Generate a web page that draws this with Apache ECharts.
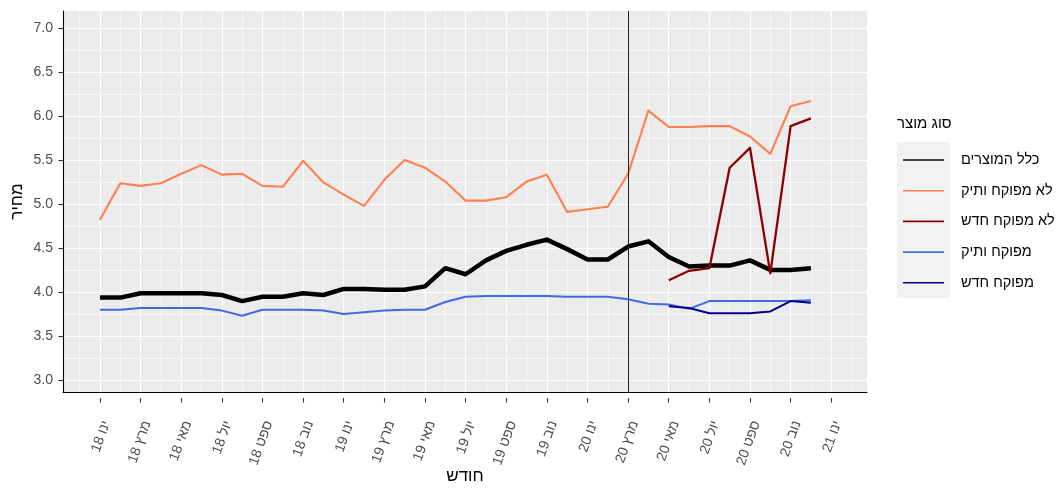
<!DOCTYPE html>
<html><head><meta charset="utf-8">
<script src="https://cdn.jsdelivr.net/npm/echarts@6/dist/echarts.min.js"></script>
<style>html,body{margin:0;padding:0;background:#fff}#c{width:1059px;height:490px}</style>
</head><body><div id="c"></div>
<script>
// ---------- DATA ----------
const months = ['2018-01','2018-02','2018-03','2018-04','2018-05','2018-06','2018-07','2018-08','2018-09','2018-10','2018-11','2018-12',
                '2019-01','2019-02','2019-03','2019-04','2019-05','2019-06','2019-07','2019-08','2019-09','2019-10','2019-11','2019-12',
                '2020-01','2020-02','2020-03','2020-04','2020-05','2020-06','2020-07','2020-08','2020-09','2020-10','2020-11','2020-12'];
const tickLabels = ['ינו 18','מרץ 18','מאי 18','יול 18','ספט 18','נוב 18','ינו 19','מרץ 19','מאי 19','יול 19','ספט 19','נוב 19',
                    'ינו 20','מרץ 20','מאי 20','יול 20','ספט 20','נוב 20','ינו 21'];
const seriesNames = ['כלל המוצרים','לא מפוקח ותיק','לא מפוקח חדש','מפוקח ותיק','מפוקח חדש'];
const allProducts = [3.89,3.89,3.94,3.94,3.94,3.94,3.92,3.85,3.90,3.90,3.94,3.92,
                     3.99,3.99,3.98,3.98,4.02,4.23,4.16,4.32,4.43,4.50,4.56,4.45,
                     4.33,4.33,4.48,4.54,4.36,4.25,4.26,4.26,4.32,4.21,4.21,4.23];
const unregulatedOld = [4.79,5.21,5.18,5.21,5.32,5.42,5.31,5.32,5.18,5.17,5.47,5.22,
                        5.08,4.95,5.25,5.48,5.39,5.23,5.01,5.01,5.05,5.23,5.31,4.88,
                        4.91,4.94,5.32,6.05,5.86,5.86,5.87,5.87,5.75,5.55,6.10,6.16];
const unregulatedNew = [null,null,null,null,null,null,null,null,null,null,null,null,
                        null,null,null,null,null,null,null,null,null,null,null,null,
                        null,null,null,null,4.09,4.20,4.23,5.39,5.62,4.17,5.87,5.96];
const regulatedOld = [3.75,3.75,3.77,3.77,3.77,3.77,3.74,3.68,3.75,3.75,3.75,3.74,
                      3.70,3.72,3.74,3.75,3.75,3.84,3.90,3.91,3.91,3.91,3.91,3.90,
                      3.90,3.90,3.87,3.82,3.81,3.76,3.85,3.85,3.85,3.85,3.85,3.86];
const regulatedNew = [null,null,null,null,null,null,null,null,null,null,null,null,
                      null,null,null,null,null,null,null,null,null,null,null,null,
                      null,null,null,null,3.79,3.77,3.71,3.71,3.71,3.73,3.85,3.83];
const markerMonth = '2020-03';

// ---------- LAYOUT ----------
const FONT = 'Liberation Sans, Arial, sans-serif';
const P = {left: 63, top: 11, width: 804, height: 387};
const X0 = -1.82, X1 = 37.76, Y0 = 2.8, Y1 = 7.2;
const YT0 = 3, YT1 = 7;
const pxX = P.width / (X1 - X0);
const gridB = {left: P.left, width: P.width,
  top: P.top + (Y1 - YT1) / (Y1 - Y0) * P.height,
  height: (YT1 - YT0) / (Y1 - Y0) * P.height};
const K0 = -2, K1 = 38;
const gridC = {left: P.left + (K0 - X0) * pxX, width: (K1 - K0) * pxX, top: P.top, height: P.height};
const ks = [];
for (let k = K0; k <= K1; k++) ks.push(String(k));
const lastIdx = (tickLabels.length - 1) * 2;
const isMajor = (i) => { const k = i + K0; return k >= 0 && k <= lastIdx && k % 2 === 0; };
const isMinor = (i) => { const k = i + K0; return Math.abs(k % 2) === 1 && k > X0 && k < X1; };

const colors = ['#000000', '#FF7F50', '#8B0000', '#4169E1', '#00008B'];
const widths = [4.5, 2.1, 2.3, 2, 2];
const values = [allProducts, unregulatedOld, unregulatedNew, regulatedOld, regulatedNew];

const series = values.map((arr, s) => ({
  name: seriesNames[s], type: 'line', xAxisIndex: 0, yAxisIndex: 0,
  data: arr.map((v, i) => v == null ? null : [i, v]).filter(d => d),
  showSymbol: false, symbol: 'none', animation: false,
  lineStyle: {color: colors[s], width: widths[s], join: 'round', cap: 'butt'},
  itemStyle: {color: colors[s]}, z: 3 + s
}));
series[0].markLine = {
  silent: true, symbol: 'none', animation: false,
  label: {show: false},
  lineStyle: {color: '#222', width: 1, type: 'solid'},
  data: [{xAxis: months.indexOf(markerMonth)}]
};

const chart = echarts.init(document.getElementById('c'), null, {renderer: 'canvas'});
chart.setOption({
  backgroundColor: '#ffffff',
  animation: false,
  textStyle: {fontFamily: FONT},
  grid: [
    {left: P.left, top: P.top, width: P.width, height: P.height, show: true, backgroundColor: '#EBEBEB', borderWidth: 0, containLabel: false},
    {left: gridB.left, top: gridB.top, width: gridB.width, height: gridB.height, containLabel: false},
    {left: gridC.left, top: gridC.top, width: gridC.width, height: gridC.height, containLabel: false}
  ],
  xAxis: [
    {gridIndex: 0, type: 'value', min: X0, max: X1, position: 'bottom',
     axisLine: {show: true, onZero: false, lineStyle: {color: '#000', width: 1.1}},
     axisTick: {show: false}, axisLabel: {show: false}, splitLine: {show: false},
     name: 'חודש', nameLocation: 'middle', nameGap: 76,
     nameTextStyle: {fontSize: 17, color: '#000', fontFamily: FONT}},
    {gridIndex: 1, type: 'value', show: false},
    {gridIndex: 2, type: 'category', data: ks, boundaryGap: false, position: 'bottom',
     axisLine: {show: false},
     axisTick: {show: true, length: 4.5, interval: isMajor, lineStyle: {color: '#333', width: 1.1}},
     axisLabel: {show: true, interval: isMajor, rotate: 70, margin: 21, align: 'right', verticalAlign: 'top',
       color: '#4D4D4D', fontSize: 14, fontFamily: FONT,
       formatter: (v) => { const k = Number(v); return (k >= 0 && k % 2 === 0 && k / 2 < tickLabels.length) ? tickLabels[k / 2] : ''; }},
     splitLine: {show: true, interval: isMajor, lineStyle: {color: '#FFFFFF', width: 1.1}}},
    {gridIndex: 2, type: 'category', data: ks, boundaryGap: false, position: 'top',
     axisLine: {show: false}, axisTick: {show: false}, axisLabel: {show: false},
     splitLine: {show: true, interval: isMinor, lineStyle: {color: '#FFFFFF', width: 0.55}}}
  ],
  yAxis: [
    {gridIndex: 0, type: 'value', min: Y0, max: Y1,
     axisLine: {show: true, onZero: false, lineStyle: {color: '#000', width: 1.1}},
     axisTick: {show: false}, axisLabel: {show: false}, splitLine: {show: false},
     name: 'מחיר', nameLocation: 'middle', nameGap: 37,
     nameTextStyle: {fontSize: 17, color: '#000', fontFamily: FONT}},
    {gridIndex: 1, type: 'value', min: YT0, max: YT1, interval: 0.5,
     axisLine: {show: false},
     axisTick: {show: true, length: 4.5, lineStyle: {color: '#333', width: 1.1}},
     axisLabel: {show: true, margin: 10, color: '#4D4D4D', fontSize: 14, fontFamily: FONT, formatter: (v) => v.toFixed(1)},
     splitLine: {show: true, lineStyle: {color: '#FFFFFF', width: 1.1}},
     minorTick: {show: false, splitNumber: 2},
     minorSplitLine: {show: true, lineStyle: {color: '#FFFFFF', width: 0.55}}},
    {gridIndex: 2, type: 'value', show: false}
  ],
  legend: {
    orient: 'vertical', left: 903, top: 152, padding: 0, itemGap: 14.7,
    icon: 'rect', itemWidth: 41, itemHeight: 1.6,
    data: seriesNames,
    textStyle: {fontSize: 14.5, color: '#000', fontFamily: FONT, lineHeight: 16, padding: [0, 0, 0, 12]}
  },
  graphic: [
    {type: 'rect', left: 897, top: 142, z: -1, shape: {width: 53, height: 156}, style: {fill: '#F2F2F2'}},
    {type: 'text', left: 897, top: 116, style: {text: 'סוג מוצר', font: '15px Liberation Sans, Arial, sans-serif', fill: '#000'}}
  ],
  series: series
});
</script>
</body></html>
